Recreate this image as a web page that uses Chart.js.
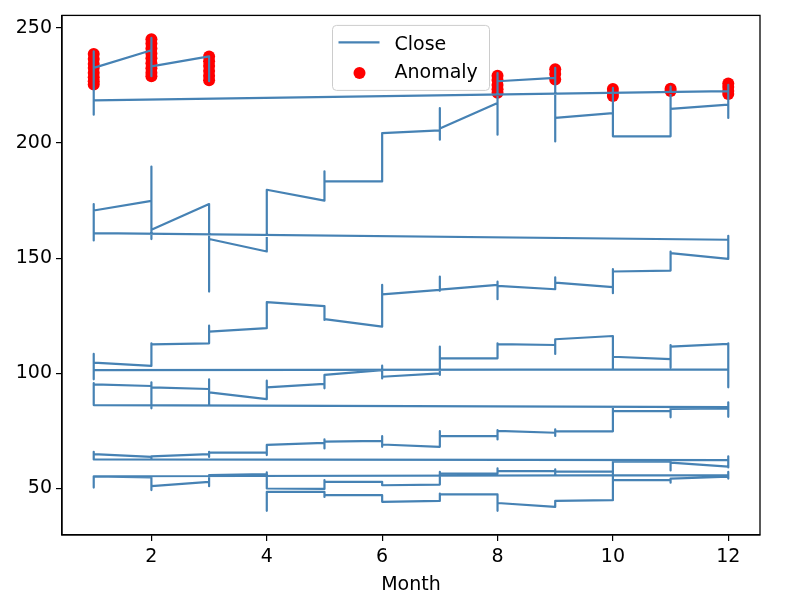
<!DOCTYPE html>
<html><head><meta charset="utf-8">
<script src="https://cdn.jsdelivr.net/npm/chart.js@4.4.1/dist/chart.umd.min.js"></script>
<style>html,body{margin:0;padding:0;background:#fff}</style>
</head><body>
<canvas id="c" width="800" height="610"></canvas>
<script>
// ---- data ----
const months = [1,2,3,4,5,6,7,8,9,10,11,12];
const xTicks = [2,4,6,8,10,12];
const yTicks = [50,100,150,200,250];
const seriesNames = ['Close','Anomaly'];
// Close values inside each month, in time order, one array per year (null = no data)
const closeYear1 = [null,null,null,[45.5,40.3,46,48.5],[48.5,46.3,47.1],[47.1,44.3,44.2],[44.6,47.8,47.4],[47.4,40.3,43.7],[42,44.6],[44.9,57,53.6],[53.6,52.5,54.3],[55.1,57.2,54.3,55.8]];
const closeYear2 = [[55.3,50.4,55.2],[54.8,55,49.3,51],[52.9,51,55.4,55.8],[56.2,57,50],[49.8,53.6,52.9],[52.9,51.4],[51.7,57.2,56.5],[56.5,58.7,57.5],[57.5,58.3,56,57.3],[57.3,62.3,61.6],[61.6,57.8,62,61.2],[59.5,59.1,64,62.3]];
const closeYear3 = [[62.6,65.9,64.9],[63.7,62.9,63.9],[64.9,63.7,65.9,65.6],[65.6,64.5,68.9],[69.8,67.4,71.3,70.3],[70.7,72.7,68.1,69.1],[68.1,74.9,72.7],[72.7,71.3,75.3,75],[74.2,72.8,75.7,74.8],[74.8,84.8,83.6],[83.6,80.9,84.9,84.5],[84.8,81.1,87.4,85.3]];
const closeYear4 = [[86.2,95.7,95.2],[94.5,96.1,84.8,93.9],[93.2,97.4,86.2,91.7],[88.8,96.8,93.9],[95.4,93.5,99.3],[101.4,103.3,97.8,98.5],[100,99.3,111.6,106.5],[106.5,113,112.7],[112.3,108.4,114.8],[116.2,102,107.2],[106.2,102.5,112.3,111.6],[112.8,113,93.9,101.7]];
const closeYear5 = [[101.4,97.4,108.4,104.6],[103.2,113,112.6],[113,120.7,118.1],[119.6,130.9],[129.2,123.2,123.5],[120.3,138.4,134.3],[136.2,142,135.8,136.3],[138.4,139.8,132.2,138],[136.5,141.7,139.4],[137.4,134.8,145.2,144.2],[144.6,152.9,152.2],[149.7,159.7,158]];
const closeYear6 = [[160.9,157.7,173.5,170.7],[174.9,189.8,158.3,162.3],[173.5,135.5,158.3],[152.9,179.7],[175,187.7,183.3],[183.3,204.3],[205.5,215.2,201.4,206.3],[217.4,203.6,230.4,226.8],[228.3,232.6,200.7,210.9],[213,223.9,202.9],[202.9,224.5,214.8],[216.7,210.9,225.3,222.5]];
const closeYear7 = [[218.5,212.3,239.8,232.6],[240.3,245.6,229,233.3],[237.6,226.8,231]];
// anomalies
const anomalyMonth = [1,1,1,1,1,1,1,1, 2,2,2,2,2,2,2,2,2, 3,3,3,3,3,3, 8,8,8,8,8, 9,9,9, 10,10,10, 11,11, 12,12,12,12];
const anomalyClose = [238.6,236.5,234.3,232.6,230.5,228.5,226.8,225.4, 245,243.2,241,238.9,236.8,234.6,232.5,230.5,229, 237.6,235.5,233.4,231.3,229.2,227.2, 229.2,227.3,225.2,223.3,221.8, 232,230,227.6, 223.4,221.8,220.4, 223.6,222.6, 225.8,224.3,222.6,221.3];

// ---- build points ----
const years = [closeYear1,closeYear2,closeYear3,closeYear4,closeYear5,closeYear6,closeYear7];
const closePts = [];
years.forEach(yr => yr.forEach((vals, i) => { if (vals) vals.forEach(v => closePts.push({x: months[i], y: v})); }));
const anomalyPts = anomalyMonth.map((m, i) => ({x: m, y: anomalyClose[i]}));

const FONT = 'DejaVu Sans';
const FS = 19;
const LINE = '#4682B4';

const frameAndLegend = {
  id: 'frameAndLegend',
  afterDraw(chart) {
    const {ctx, chartArea: a} = chart;
    ctx.save();
    ctx.strokeStyle = '#000';
    ctx.lineWidth = 1.3;
    ctx.strokeRect(a.left, a.top, a.right - a.left, a.bottom - a.top);
    // legend box (upper center)
    const w = 157, h = 65;
    const x0 = (a.left + a.right) / 2 - w / 2, y0 = a.top + 10;
    ctx.beginPath();
    ctx.roundRect(x0, y0, w, h, 4);
    ctx.fillStyle = 'rgba(255,255,255,0.8)';
    ctx.fill();
    ctx.strokeStyle = '#cccccc';
    ctx.lineWidth = 1;
    ctx.stroke();
    ctx.beginPath();
    ctx.moveTo(x0 + 6, y0 + 17);
    ctx.lineTo(x0 + 47, y0 + 17);
    ctx.strokeStyle = LINE;
    ctx.lineWidth = 2.2;
    ctx.stroke();
    ctx.beginPath();
    ctx.arc(x0 + 27, y0 + 47.5, 6, 0, Math.PI * 2);
    ctx.fillStyle = 'red';
    ctx.fill();
    ctx.fillStyle = '#000';
    ctx.font = FS + 'px "' + FONT + '"';
    ctx.textBaseline = 'alphabetic';
    ctx.textAlign = 'left';
    ctx.fillText(seriesNames[0], x0 + 62, y0 + 25);
    ctx.fillText(seriesNames[1], x0 + 62, y0 + 53);
    ctx.restore();
  }
};

Chart.defaults.font.family = FONT;
Chart.defaults.font.size = FS;
Chart.defaults.color = '#000';

new Chart(document.getElementById('c'), {
  type: 'scatter',
  data: {
    datasets: [
      { label: seriesNames[0], data: closePts, showLine: true, borderColor: LINE, backgroundColor: LINE,
        borderWidth: 2.2, pointRadius: 0, tension: 0, borderJoinStyle: 'round', borderCapStyle: 'butt', order: 0 },
      { label: seriesNames[1], data: anomalyPts, pointRadius: 6, pointBackgroundColor: 'red', pointBorderWidth: 0,
        backgroundColor: 'red', borderColor: 'red', order: 1 }
    ]
  },
  options: {
    responsive: false,
    animation: false,
    devicePixelRatio: 1,
    layout: { padding: { top: 15, right: 40, left: 0, bottom: 0 } },
    plugins: { legend: { display: false }, tooltip: { enabled: false } },
    scales: {
      x: {
        type: 'linear', min: 0.45, max: 12.55,
        afterBuildTicks: s => { s.ticks = xTicks.map(v => ({value: v})); },
        afterFit: s => { s.height = 75; },
        grid: { drawOnChartArea: false, drawTicks: true, tickLength: 6, color: '#000', lineWidth: 1.2 },
        border: { display: true, color: '#000', width: 1.3 },
        ticks: { padding: 5, color: '#000', font: { size: FS }, maxRotation: 0 },
        title: { display: true, text: 'Month', color: '#000', font: { size: FS }, padding: { top: 0, bottom: 14 } }
      },
      y: {
        type: 'linear', min: 29.8, max: 255.4,
        afterBuildTicks: s => { s.ticks = yTicks.map(v => ({value: v})); },
        afterFit: s => { s.width = 62; },
        grid: { drawOnChartArea: false, drawTicks: true, tickLength: 6, color: '#000', lineWidth: 1.2 },
        border: { display: true, color: '#000', width: 1.3 },
        ticks: { padding: 4, color: '#000', font: { size: FS } }
      }
    }
  },
  plugins: [frameAndLegend]
});
</script>
</body></html>
